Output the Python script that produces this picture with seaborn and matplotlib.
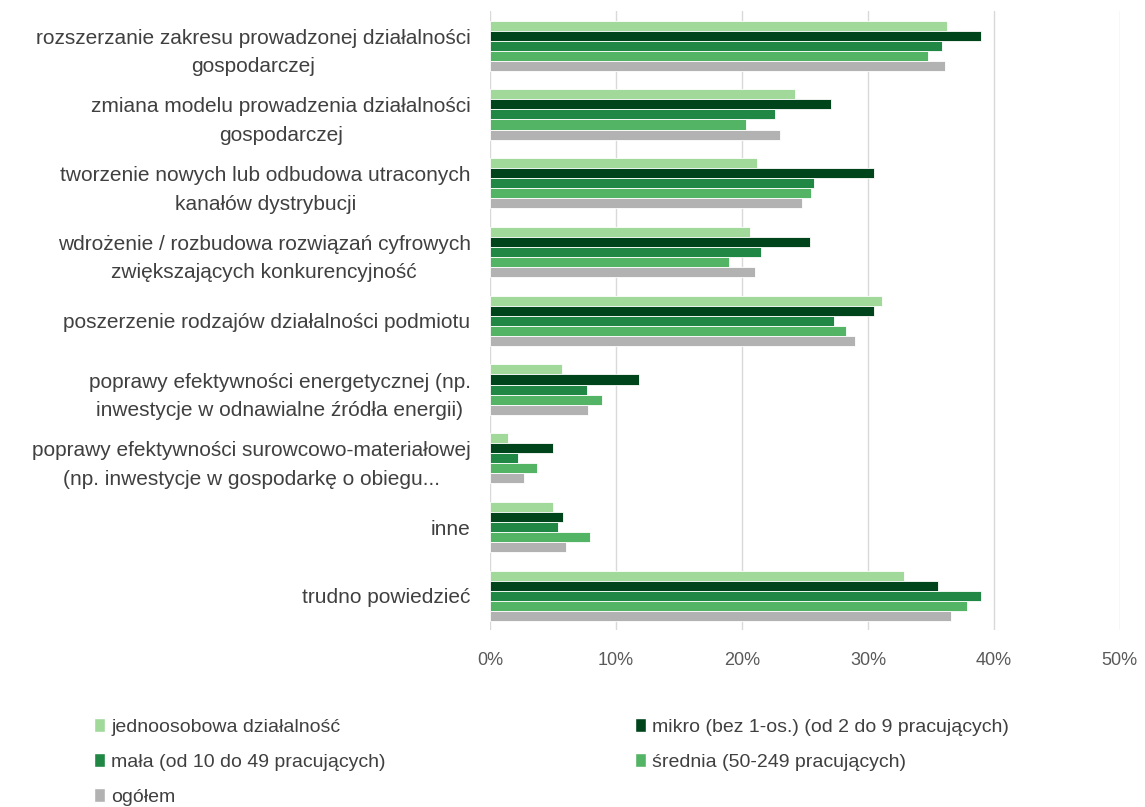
import matplotlib
matplotlib.use("Agg")
import matplotlib.pyplot as plt
from matplotlib.patches import Patch
from matplotlib.ticker import FuncFormatter
import pandas as pd
import seaborn as sns

categories = [
    "rozszerzanie zakresu prowadzonej działalności\ngospodarczej",
    "zmiana modelu prowadzenia działalności\ngospodarczej",
    "tworzenie nowych lub odbudowa utraconych\nkanałów dystrybucji",
    "wdrożenie / rozbudowa rozwiązań cyfrowych\nzwiększających konkurencyjność",
    "poszerzenie rodzajów działalności podmiotu",
    "poprawy efektywności energetycznej (np.\ninwestycje w odnawialne źródła energii)",
    "poprawy efektywności surowcowo-materiałowej\n(np. inwestycje w gospodarkę o obiegu...",
    "inne",
    "trudno powiedzieć",
]

series = [
    "jednoosobowa działalność",
    "mikro (bez 1-os.) (od 2 do 9 pracujących)",
    "mała (od 10 do 49 pracujących)",
    "średnia (50-249 pracujących)",
    "ogółem",
]

jednoosobowa = [36.3, 24.2, 21.2, 20.6, 31.1, 5.7, 1.4, 5.0, 32.9]
mikro = [39.0, 27.1, 30.5, 25.4, 30.5, 11.8, 5.0, 5.8, 35.6]
mala = [35.9, 22.6, 25.7, 21.5, 27.3, 7.7, 2.2, 5.4, 39.0]
srednia = [34.8, 20.3, 25.5, 19.0, 28.3, 8.9, 3.7, 7.9, 37.9]
ogolem = [36.1, 23.0, 24.8, 21.0, 29.0, 7.8, 2.7, 6.0, 36.6]

colors = ["#a1d99b", "#00441b", "#218744", "#54b466", "#b2b2b2"]

values = [jednoosobowa, mikro, mala, srednia, ogolem]
rows = []
for name, vals in zip(series, values):
    for cat, v in zip(categories, vals):
        rows.append({"kategoria": cat, "grupa": name, "udzial": v / 100})
df = pd.DataFrame(rows)

sns.set_style("white")
plt.rcParams["font.family"] = ["Liberation Sans", "DejaVu Sans"]

fig = plt.figure(figsize=(11.45, 8.07), dpi=100)
ax = fig.add_axes([0.428, 0.219, 0.55, 0.767])

sns.barplot(data=df, y="kategoria", x="udzial", hue="grupa", order=categories,
            hue_order=series, palette=colors, saturation=1, orient="h", width=0.73,
            edgecolor="white", linewidth=0.6, ax=ax, legend=False)

ax.set_xlim(0, 0.5)
ax.set_xticks([0, 0.1, 0.2, 0.3, 0.4, 0.5])
ax.xaxis.set_major_formatter(FuncFormatter(lambda x, p: f"{x * 100:.0f}%"))
ax.grid(axis="x", color="#d9d9d9", linewidth=1)
ax.set_axisbelow(True)
for s in ax.spines.values():
    s.set_visible(False)
ax.set_xlabel("")
ax.set_ylabel("")
ax.tick_params(axis="x", length=0, labelsize=13, colors="#595959", pad=16)
ax.tick_params(axis="y", length=0, labelsize=15, labelcolor="#404040", pad=14)
for t in ax.get_yticklabels():
    t.set_multialignment("center")
    t.set_linespacing(1.62)

# legenda: wiersze jak w oryginale (jedno | mikro, mała | średnia, ogółem)
order = [0, 2, 4, 1, 3]
handles = [Patch(facecolor=colors[i], edgecolor="white") for i in order]
labels = [series[i] for i in order]
fig.legend(handles, labels, loc="upper left", bbox_to_anchor=(0.075, 0.12),
           ncol=2, frameon=False, fontsize=14, labelcolor="#404040",
           handlelength=0.6, handleheight=0.7, handletextpad=0.3,
           columnspacing=12.8, labelspacing=0.9, borderaxespad=0)

fig.savefig("out.png", dpi=100)
